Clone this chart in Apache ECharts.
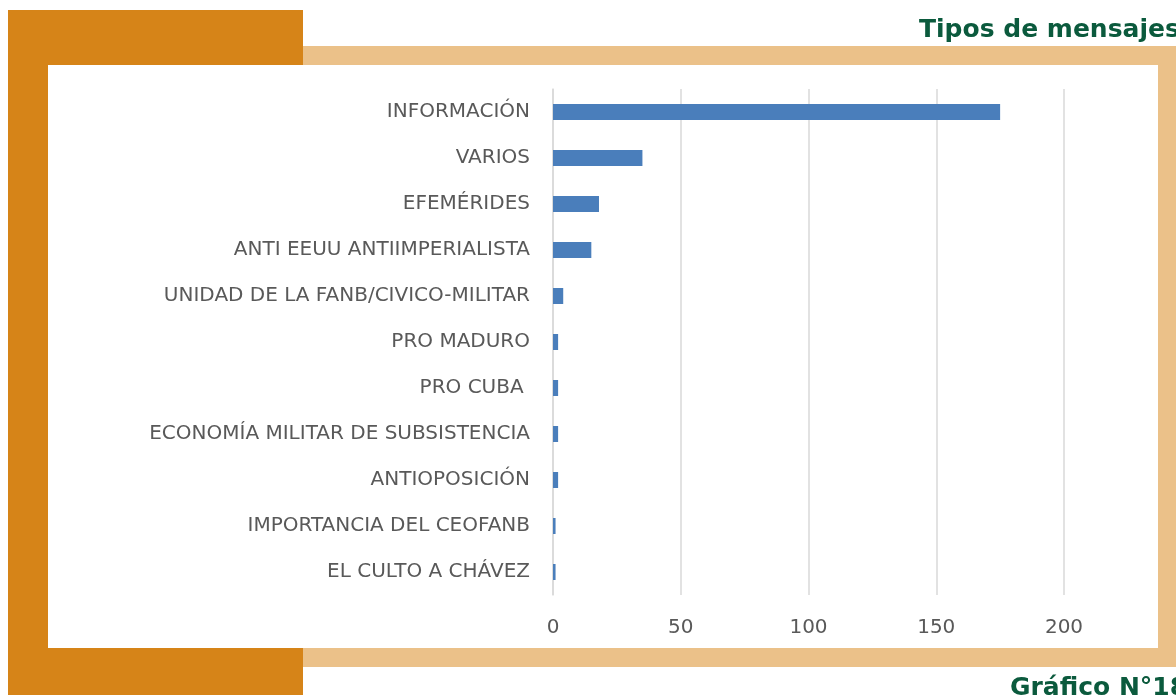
<!DOCTYPE html>
<html>
<head>
<meta charset="utf-8">
<script src="https://cdn.jsdelivr.net/npm/echarts@6/dist/echarts.min.js"></script>
<style>
  html, body { margin: 0; padding: 0; background: #ffffff; }
  #chart { width: 1176px; height: 695px; }
</style>
</head>
<body>
<div id="chart"></div>
<script>
// categorias de mensajes (de arriba hacia abajo)
const categories = [
  'INFORMACIÓN',
  'VARIOS',
  'EFEMÉRIDES',
  'ANTI EEUU ANTIIMPERIALISTA',
  'UNIDAD DE LA FANB/CIVICO-MILITAR',
  'PRO MADURO',
  'PRO CUBA ',
  'ECONOMÍA MILITAR DE SUBSISTENCIA',
  'ANTIOPOSICIÓN',
  'IMPORTANCIA DEL CEOFANB',
  'EL CULTO A CHÁVEZ'
];
const values = [175, 35, 18, 15, 4, 2, 2, 2, 2, 1, 1];
const xTicks = [0, 50, 100, 150, 200];

const chart = echarts.init(document.getElementById('chart'));

const option = {
  animation: false,
  title: [{
    text: 'Tipos de mensajes',
    left: 914,
    top: 13,
    textStyle: { fontFamily: 'DejaVu Sans', fontWeight: 'bold', fontSize: 25, color: '#0b5a3d' }
  }, {
    text: 'Gráfico N°18',
    left: 1005,
    top: 671,
    textStyle: { fontFamily: 'DejaVu Sans', fontWeight: 'bold', fontSize: 25, color: '#0b5a3d' }
  }],
  graphic: [
    // marco decorativo
    { type: 'rect', z: -10, shape: { x: 8, y: 10, width: 295, height: 685 }, style: { fill: '#d68418' } },
    { type: 'rect', z: -10, shape: { x: 303, y: 46, width: 873, height: 621 }, style: { fill: '#ebc189' } },
    { type: 'rect', z: -9, shape: { x: 48, y: 65, width: 1110, height: 583 }, style: { fill: '#ffffff' } }
  ],
  grid: {
    left: 553,
    right: 112,
    top: 89,
    bottom: 100
  },
  xAxis: {
    type: 'value',
    min: xTicks[0],
    max: xTicks[xTicks.length - 1],
    interval: 50,
    axisLine: { show: false },
    axisTick: { show: false },
    splitLine: { lineStyle: { color: '#d9d9d9', width: 1.5 } },
    axisLabel: { color: '#595959', fontSize: 20, fontFamily: 'DejaVu Sans', margin: 23 }
  },
  yAxis: {
    type: 'category',
    inverse: true,
    data: categories,
    axisLine: { show: true, lineStyle: { color: '#d9d9d9', width: 1.5 } },
    axisTick: { show: false },
    axisLabel: { color: '#595959', fontSize: 20, fontFamily: 'DejaVu Sans', margin: 23 }
  },
  series: [{
    type: 'bar',
    data: values,
    barWidth: 16,
    itemStyle: { color: '#4a7ebb' }
  }]
};

chart.setOption(option);
</script>
</body>
</html>
